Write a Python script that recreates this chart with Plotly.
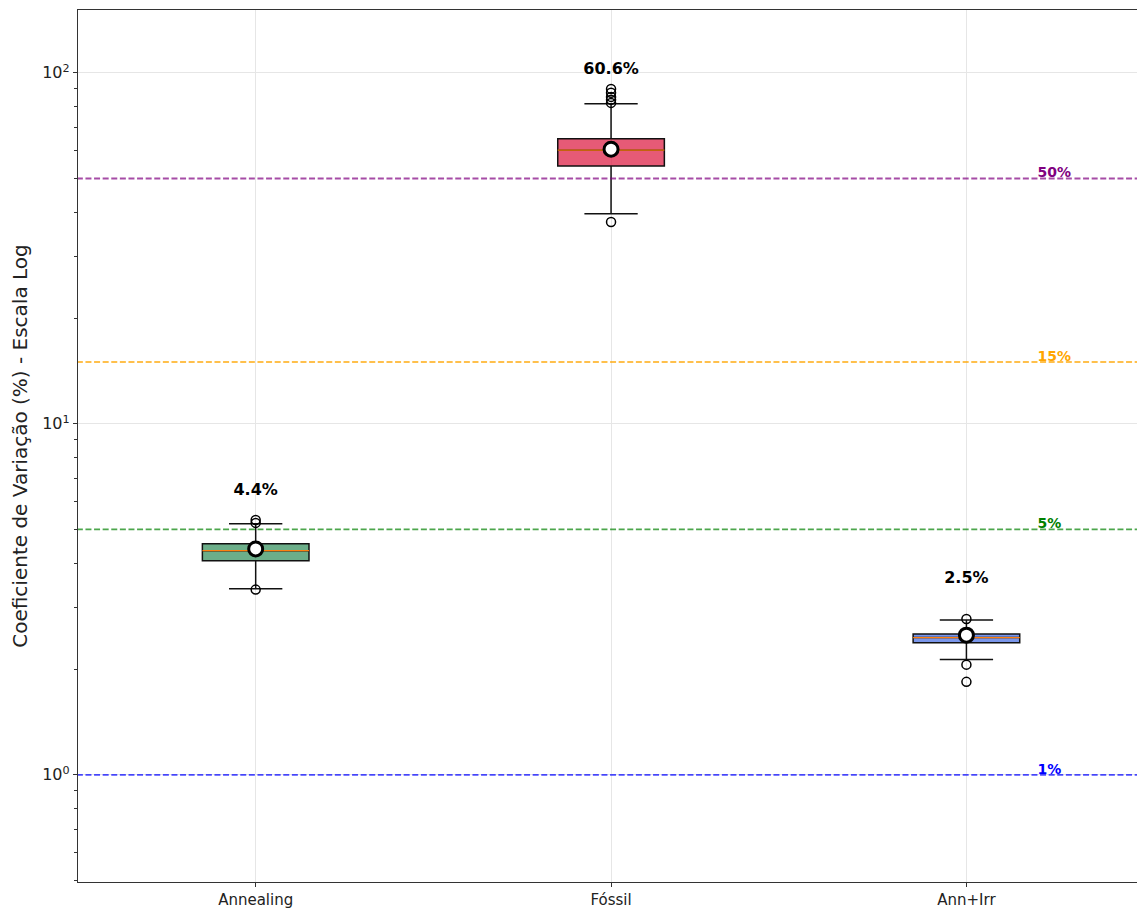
import numpy as np
import plotly.graph_objects as go

categories = ["Annealing", "Fóssil", "Ann+Irr"]
box_colors = ["rgba(46,139,87,0.7)", "rgba(220,20,60,0.7)", "rgba(65,105,225,0.7)"]
q1 = [4.07, 54.3, 2.38]
median = [4.35, 60.2, 2.46]
q3 = [4.55, 64.9, 2.52]
lower_whisker = [3.39, 39.7, 2.13]
upper_whisker = [5.19, 81.6, 2.76]
means = [4.4, 60.6, 2.5]
outliers = [
    [5.32, 5.22, 3.37],
    [90.0, 87.7, 85.4, 83.8, 82.1, 37.6],
    [2.78, 2.06, 1.84],
]
label_y = [6.44, 102.0, 3.62]

thresholds = [1, 5, 15, 50]
threshold_labels = ["1%", "5%", "15%", "50%"]
threshold_line_colors = ["rgba(0,0,255,0.7)", "rgba(0,128,0,0.7)", "rgba(255,165,0,0.7)", "rgba(128,0,128,0.7)"]
threshold_text_colors = ["#0000ff", "#008000", "#ffa500", "#800080"]

major_ticks = [1, 10, 100]
major_tick_text = ["10<sup>0</sup>", "10<sup>1</sup>", "10<sup>2</sup>"]

xpos = list(range(len(categories)))
box_w = 0.3
FONT = "DejaVu Sans"

fig = go.Figure()

# threshold lines
for t, c in zip(thresholds, threshold_line_colors):
    fig.add_trace(go.Scatter(x=[-0.6, 2.6], y=[t, t], mode="lines",
                             line=dict(color=c, width=1.8, dash="6px,2.6px"),
                             showlegend=False, hoverinfo="skip"))

for i in xpos:
    fig.add_trace(go.Box(
        x=[i], q1=[q1[i]], median=[median[i]], q3=[q3[i]],
        lowerfence=[lower_whisker[i]], upperfence=[upper_whisker[i]],
        width=box_w, whiskerwidth=0.5, fillcolor=box_colors[i],
        line=dict(color="#111111", width=1.5), boxpoints=False,
        showlegend=False))
    # median line
    fig.add_trace(go.Scatter(x=[i - box_w / 2, i + box_w / 2], y=[median[i], median[i]],
                             mode="lines", line=dict(color="#ff7f0e", width=1.3),
                             showlegend=False, hoverinfo="skip"))
    # outliers
    fig.add_trace(go.Scatter(x=[i] * len(outliers[i]), y=outliers[i], mode="markers",
                             marker=dict(symbol="circle-open", size=9,
                                         line=dict(color="black", width=1.5), color="black"),
                             showlegend=False))

# means
fig.add_trace(go.Scatter(x=xpos, y=means, mode="markers",
                         marker=dict(symbol="circle", size=14, color="white",
                                     line=dict(color="black", width=3)),
                         showlegend=False))

# mean labels
fig.add_trace(go.Scatter(x=xpos, y=label_y, mode="text",
                         text=[f"{m:.1f}%" for m in means],
                         textfont=dict(family=FONT, size=16, color="black", weight="bold"),
                         textposition="middle center", showlegend=False))

# threshold labels
fig.add_trace(go.Scatter(x=[2.2] * len(thresholds), y=[t * 1.03 for t in thresholds], mode="text",
                         text=threshold_labels,
                         textfont=dict(family=FONT, size=14, color=threshold_text_colors, weight="bold"),
                         textposition="middle right", showlegend=False))

minor_vals = [v * 10.0 ** e for e in (-1, 0, 1, 2) for v in range(2, 10)]
minor_vals = [v for v in minor_vals if 0.5 <= v <= 151]

fig.update_layout(
    width=1137, height=912, autosize=False,
    margin=dict(l=78, r=0, t=10, b=30, autoexpand=False),
    paper_bgcolor="white", plot_bgcolor="white",
    boxmode="overlay",
    font=dict(family=FONT, size=15, color="#222222"),
    xaxis=dict(range=[-0.5, 2.48], tickmode="array", tickvals=xpos, ticktext=categories,
               showgrid=True, gridcolor="#e6e6e6", gridwidth=1,
               showline=True, linecolor="#333333", linewidth=1.3, mirror=True,
               ticks="outside", ticklen=4, tickcolor="#333333", zeroline=False,
               tickfont=dict(size=15), automargin=False),
    yaxis=dict(type="log", range=[np.log10(0.495), np.log10(151)],
               tickmode="array", tickvals=major_ticks, ticktext=major_tick_text,
               showgrid=True, gridcolor="#e6e6e6", gridwidth=1,
               showline=True, linecolor="#333333", linewidth=1.3,
               ticks="outside", ticklen=4, tickcolor="#333333", zeroline=False,
               tickfont=dict(size=16), automargin=False,
               minor=dict(tickmode="array", tickvals=minor_vals, ticks="outside", ticklen=3,
                          tickcolor="#333333", showgrid=False),
               title=dict(text="Coeficiente de Variação (%) - Escala Log",
                          font=dict(size=20, color="#222222"), standoff=9)),
)

post = ("document.body.style.margin='0';document.body.style.padding='0';"
        "document.body.style.overflow='hidden';")
fig.write_html("out.html", post_script=post,
               config={"responsive": False, "displayModeBar": False})
